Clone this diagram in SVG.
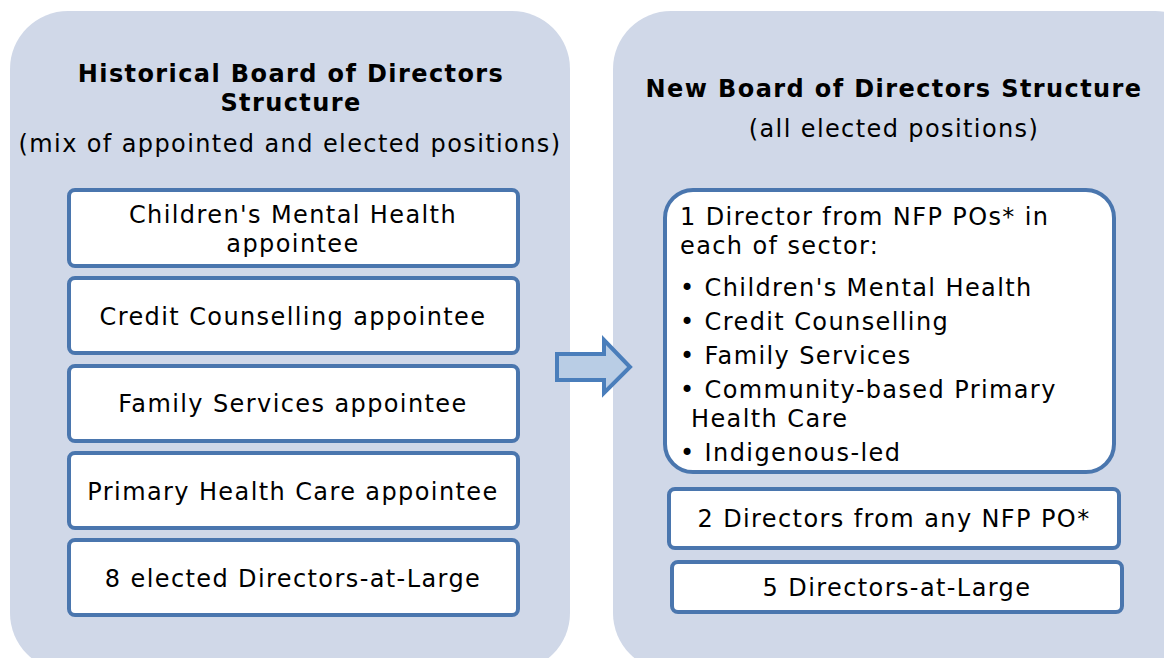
<svg xmlns="http://www.w3.org/2000/svg" width="1164" height="658" viewBox="0 0 1164 658">
<style>
.panel{fill:#d0d8e8}
.box{fill:#fff;stroke:#4a76ae;stroke-width:4}
text{font-family:"DejaVu Sans",Verdana,sans-serif;fill:#000;font-size:24px;letter-spacing:1.4px}
.t{font-weight:bold;text-anchor:middle}
.s{text-anchor:middle}
.b{text-anchor:middle}
</style>
<rect width="1164" height="658" fill="#fff"/>
<g id="left-panel">
<rect class="panel" x="10" y="11" width="560" height="660" rx="58"/>
<text class="t" x="291" y="82">Historical Board of Directors</text>
<text class="t" x="291" y="111">Structure</text>
<text class="s" x="290" y="152">(mix of appointed and elected positions)</text>
</g>
<g id="right-panel">
<rect class="panel" x="613" y="11" width="600" height="660" rx="58"/>
<text class="t" x="894" y="97">New Board of Directors Structure</text>
<text class="s" x="894" y="137">(all elected positions)</text>
</g>
<g id="l1"><rect class="box" x="69" y="190" width="449" height="76" rx="6"/>
<text class="b" x="293" y="223">Children's Mental Health</text><text class="b" x="293" y="252">appointee</text></g>
<g id="l2"><rect class="box" x="69" y="278" width="449" height="75" rx="6"/>
<text class="b" x="293" y="325">Credit Counselling appointee</text></g>
<g id="l3"><rect class="box" x="69" y="366" width="449" height="75" rx="6"/>
<text class="b" x="293" y="412">Family Services appointee</text></g>
<g id="l4"><rect class="box" x="69" y="453" width="449" height="75" rx="6"/>
<text class="b" x="293" y="500">Primary Health Care appointee</text></g>
<g id="l5"><rect class="box" x="69" y="540" width="449" height="75" rx="6"/>
<text class="b" x="293" y="587">8 elected Directors-at-Large</text></g>
<g id="r1"><rect class="box" x="665" y="190" width="449" height="282" rx="28"/>
<text x="680" y="225">1 Director from NFP POs* in</text>
<text x="680" y="254">each of sector:</text>
<text x="680" y="296">• Children's Mental Health</text>
<text x="680" y="330">• Credit Counselling</text>
<text x="680" y="364">• Family Services</text>
<text x="680" y="398">• Community-based Primary</text>
<text x="691" y="427">Health Care</text>
<text x="680" y="461">• Indigenous-led</text></g>
<g id="r2"><rect class="box" x="669" y="489" width="450" height="59" rx="6"/>
<text class="b" x="894" y="527">2 Directors from any NFP PO*</text></g>
<g id="r3"><rect class="box" x="672" y="562" width="450" height="50" rx="6"/>
<text class="b" x="897" y="596">5 Directors-at-Large</text></g>
<g id="connectors">
<path d="M557,354 H604 V340 L630,367 L604,393 V380 H557 Z" fill="#b9cde5" stroke="#4a7ebb" stroke-width="4"/>
</g>
</svg>
